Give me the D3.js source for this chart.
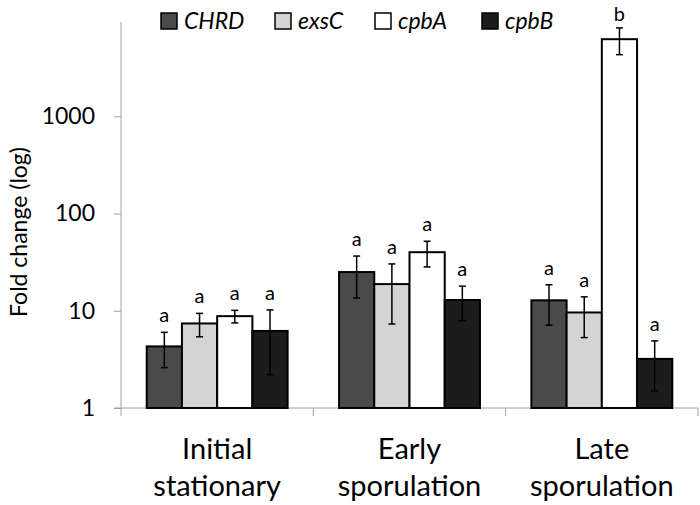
<!DOCTYPE html>
<html><head><meta charset="utf-8">
<script src="https://cdn.jsdelivr.net/npm/d3@7"></script>
<style>body{margin:0;background:#fff}svg{display:block}text{font-family:Lato,"Open Sans",sans-serif}</style>
</head><body>
<script>
const categories = [["Initial","stationary"],["Early","sporulation"],["Late","sporulation"]];
const seriesNames = ["CHRD","exsC","cpbA","cpbB"];
const seriesColors = ["#4a4a4a","#d4d4d4","#ffffff","#1c1c1c"];
const CHRD = [4.3, 25.0, 12.8];
const exsC = [7.4, 18.8, 9.6];
const cpbA = [8.8, 40.0, 6200];
const cpbB = [6.2, 12.9, 3.2];
const CHRD_err = [1.7, 11.5, 5.7];
const exsC_err = [2.0, 11.5, 4.3];
const cpbA_err = [1.3, 11.8, 1900];
const cpbB_err = [4.0, 5.0, 1.7];
const letters = [["a","a","a","a"],["a","a","a","a"],["a","a","b","a"]];
const yTicks = [1,10,100,1000];

const values = [CHRD, exsC, cpbA, cpbB];
const errs = [CHRD_err, exsC_err, cpbA_err, cpbB_err];

const W=700,H=505;
const svg=d3.select("body").append("svg").attr("width",W).attr("height",H);
const x0=d3.scaleBand().domain(d3.range(3)).range([121,698]).paddingInner(0).paddingOuter(0);
const x1=d3.scaleBand().domain(d3.range(4)).range([0,x0.bandwidth()]).paddingInner(0).paddingOuter(0.73);
const y=d3.scaleLog().domain([1,10000]).range([408,19]);

// y axis
const yAxis=svg.append("g").attr("transform","translate(121,0)")
  .call(d3.axisLeft(y).tickValues(yTicks).tickFormat(d3.format("d")).tickSize(7).tickPadding(19));
yAxis.select(".domain").attr("stroke","#a0a0a0").attr("d","M0,22V416");
yAxis.selectAll(".tick line").attr("stroke","#a0a0a0");
yAxis.selectAll(".tick text").attr("font-size",23).attr("fill","#000").attr("font-family","Lato");

// x axis
svg.append("line").attr("x1",114).attr("x2",698).attr("y1",408).attr("y2",408).attr("stroke","#a0a0a0");
[1,2,3].forEach(i=>{
  const xx = i<3 ? x0(i) : x0.range()[1];
  svg.append("line").attr("x1",xx).attr("x2",xx).attr("y1",408).attr("y2",416).attr("stroke","#a0a0a0");
});

const g=svg.append("g");
categories.forEach((c,ci)=>{
  seriesNames.forEach((s,si)=>{
    const v=values[si][ci], e=errs[si][ci];
    const bx=x0(ci)+x1(si), bw=x1.bandwidth();
    g.append("rect").attr("x",bx).attr("y",y(v)).attr("width",bw).attr("height",y(1)-y(v))
      .attr("fill",seriesColors[si]).attr("stroke","#000").attr("stroke-width",2);
    const cx=bx+bw/2, top=y(v+e), bot=y(Math.max(v-e,1.01));
    g.append("line").attr("x1",cx).attr("x2",cx).attr("y1",top).attr("y2",bot).attr("stroke","#000").attr("stroke-width",1.5);
    [top,bot].forEach(yy=>g.append("line").attr("x1",cx-3.5).attr("x2",cx+3.5).attr("y1",yy).attr("y2",yy).attr("stroke","#000").attr("stroke-width",1.5));
    g.append("text").attr("x",cx).attr("y",Math.max(top-10,21)).attr("text-anchor","middle").attr("font-size",20).text(letters[ci][si]);
  });
  const t=svg.append("text").attr("text-anchor","middle").attr("font-size",29);
  t.append("tspan").attr("x",x0(ci)+x0.bandwidth()/2).attr("y",459).text(c[0]);
  t.append("tspan").attr("x",x0(ci)+x0.bandwidth()/2).attr("y",496).text(c[1]);
});

// y title
svg.append("text").attr("transform","translate(27,232) rotate(-90)").attr("text-anchor","middle").attr("font-size",23).text("Fold change (log)");

// legend
const legX=[161,275,375,482];
seriesNames.forEach((s,i)=>{
  svg.append("rect").attr("x",legX[i]).attr("y",13).attr("width",16).attr("height",16).attr("fill",seriesColors[i]).attr("stroke","#000").attr("stroke-width",1.5);
  svg.append("text").attr("x",legX[i]+23).attr("y",29).attr("font-size",23).attr("font-style","italic").text(s);
});
</script>
</body></html>
